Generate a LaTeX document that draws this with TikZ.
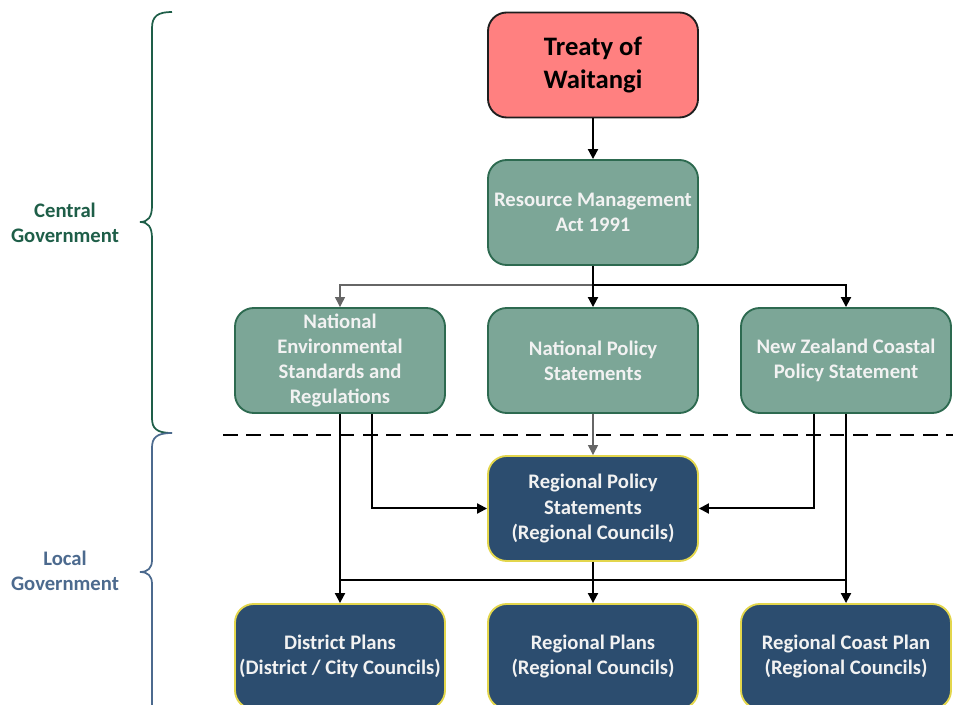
\documentclass[tikz,border=0pt]{standalone}
\usepackage{fontspec}
\setmainfont{Carlito}
\usetikzlibrary{arrows.meta}
\definecolor{treatyfill}{HTML}{FF8080}
\definecolor{treatyline}{HTML}{1E1E1E}
\definecolor{grfill}{HTML}{7CA697}
\definecolor{grline}{HTML}{2D6A50}
\definecolor{nvfill}{HTML}{2C4D6F}
\definecolor{nvline}{HTML}{E3D64C}
\definecolor{boxtext}{HTML}{F2F2F2}
\definecolor{cgreen}{HTML}{1E5E48}
\definecolor{lblue}{HTML}{4C6A8E}
\definecolor{grayln}{HTML}{666666}
\tikzset{
  box/.style={rectangle, rounded corners=14pt, minimum width=157.5pt, minimum height=78.75pt,
    align=center, line width=1.4pt, font=\fontsize{15.5}{18.8}\selectfont\bfseries, inner sep=0pt},
  treatybox/.style={box, fill=treatyfill, draw=treatyline, text=black,
    font=\fontsize{20}{25}\selectfont\bfseries},
  greenbox/.style={box, fill=grfill, draw=grline, text=boxtext},
  navybox/.style={box, fill=nvfill, draw=nvline, text=boxtext},
  barr/.style={line width=1.5pt, black, -{Triangle[length=7.5pt,width=7.5pt]}},
  garr/.style={line width=0.9pt, grayln, -{Triangle[length=7.5pt,width=7.5pt]}},
  bln/.style={line width=1.5pt, black},
  sidelbl/.style={align=center, font=\fontsize{15.5}{18.8}\selectfont\bfseries},
}
\begin{document}
\begin{tikzpicture}[x=0.75pt,y=-0.75pt]
\useasboundingbox (0,0) rectangle (953,705);
\begin{scope}
\clip (0,0) rectangle (953,705);
% nodes
\node[treatybox] (treaty) at (593,65) {Treaty of\\Waitangi};
\node[greenbox] (rma) at (593,212.5) {Resource Management\\Act 1991};
\node[greenbox] (nes) at (340,360.5) {National\\Environmental\\Standards and\\Regulations};
\node[greenbox] (nps) at (593,360.5) {National Policy\\Statements};
\node[greenbox] (nzc) at (846,360.5) {New Zealand Coastal\\Policy Statement};
\node[navybox] (rps) at (593,508.5) {Regional Policy\\Statements\\(Regional Councils)};
\node[navybox] (dp) at (340,656.5) {District Plans\\(District / City Councils)};
\node[navybox] (rp) at (593,656.5) {Regional Plans\\(Regional Councils)};
\node[navybox] (rcp) at (846,656.5) {Regional Coast Plan\\(Regional Councils)};
% junctions
\coordinate (j1) at (593,285);
\coordinate (j2l) at (340,580);
\coordinate (j2r) at (846,580);
% connectors
\draw[barr] (treaty) -- (rma);
\draw[garr] (j1) -| (nes.north);
\draw[barr] (j1) -| (nzc.north);
\draw[barr] (rma.south) -- (nps.north);
\draw[garr] (nps.south) -- (rps.north);
\draw[barr] ([xshift=24pt]nes.south) |- (rps.west);
\draw[barr] ([xshift=-24pt]nzc.south) |- (rps.east);
\draw[barr] (nes.south) -- (dp.north);
\draw[barr] (nzc.south) -- (rcp.north);
\draw[barr] (rps.south) -- (rp.north);
\draw[bln] (j2l) -- (j2r);
% dashed separator
\coordinate (d1) at (223,435);
\coordinate (d2) at (953,435);
\draw[line width=1.6pt, dash pattern=on 11pt off 6.5pt] (d1) -- (d2);
% braces
\draw[cgreen, line width=1.3pt] (172,12) .. controls (158,12) and (152,16) .. (152,28) -- (152,206)
  .. controls (152,217) and (148,222) .. (140,222) .. controls (148,222) and (152,227) .. (152,238)
  -- (152,418) .. controls (152,428) and (156,433) .. (172,433);
\draw[lblue, line width=1.3pt] (172,433) .. controls (156,433) and (152,438) .. (152,448) -- (152,560)
  .. controls (152,568) and (148,572) .. (140,572) .. controls (148,572) and (152,576) .. (152,584)
  -- (152,705);
\end{scope}
\node[sidelbl, text=cgreen] (cg) at (65,222.5) {Central\\Government};
\node[sidelbl, text=lblue] (lg) at (65,571) {Local\\Government};
\end{tikzpicture}
\end{document}
